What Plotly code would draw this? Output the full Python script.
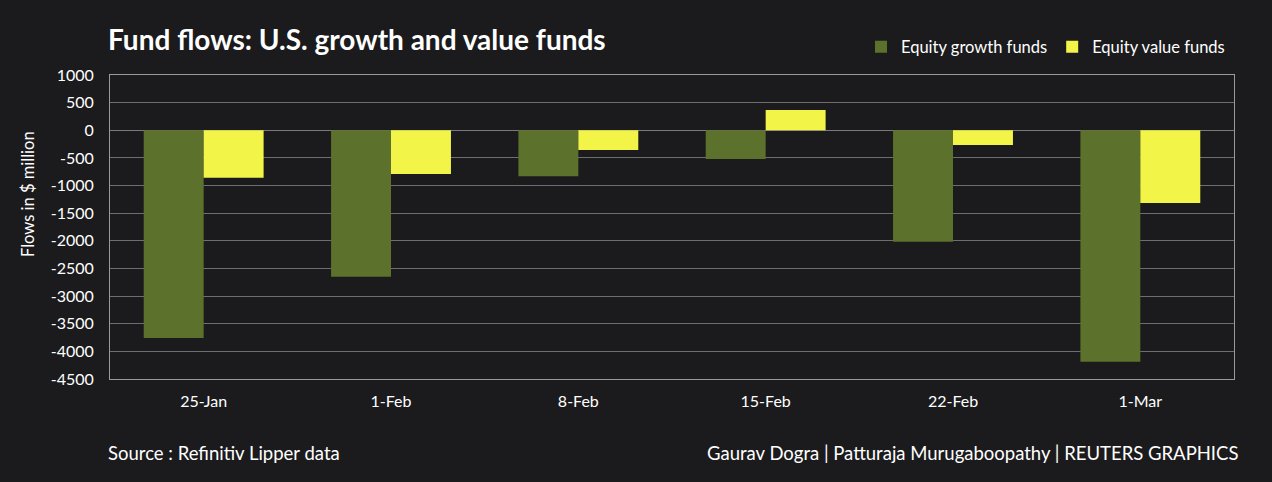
import plotly.graph_objects as go

categories = ["25-Jan", "1-Feb", "8-Feb", "15-Feb", "22-Feb", "1-Mar"]
growth = [-3760, -2650, -830, -520, -2015, -4190]
value = [-860, -790, -355, 365, -265, -1315]
y_ticks = [1000, 500, 0, -500, -1000, -1500, -2000, -2500, -3000, -3500, -4000, -4500]

BG = "#1b1b1d"
FONT = "Lato"
W, H = 1272, 482
L, R, T, B = 110, 38, 75, 103
PW, PH = W - L - R, H - T - B


def px_x(x):
    return (x - L) / PW


def px_y(y):
    return (H - B - y) / PH


fig = go.Figure()
fig.add_trace(go.Bar(x=categories, y=growth, name="Equity growth funds",
                     marker=dict(color="#5c712b", line=dict(width=0))))
fig.add_trace(go.Bar(x=categories, y=value, name="Equity value funds",
                     marker=dict(color="#f2f548", line=dict(width=0))))

fig.update_layout(
    width=W, height=H,
    paper_bgcolor=BG, plot_bgcolor=BG,
    margin=dict(l=L, r=R, t=T, b=B),
    barmode="group", bargap=0.36, bargroupgap=0,
    font=dict(family=FONT, color="#ffffff", size=16),
    title=dict(text="<b>Fund flows: U.S. growth and value funds</b>",
               x=108 / W, xanchor="left", y=1 - 40 / H, yanchor="middle",
               font=dict(size=28, color="#ffffff", family=FONT)),
    legend=dict(orientation="h", x=px_x(1230), xanchor="right",
                y=px_y(47), yanchor="middle",
                font=dict(size=16.5, color="#ffffff"),
                traceorder="normal", bgcolor="rgba(0,0,0,0)",
                itemwidth=30),
    showlegend=True,
    xaxis=dict(showgrid=False, showline=True, linecolor="#9a9a9a", linewidth=1,
               mirror=True, ticks="", tickfont=dict(size=16, color="#ffffff"),
               ticklabelstandoff=8),
    yaxis=dict(range=[-4500, 1000], tickvals=y_ticks,
               ticktext=[str(v) for v in y_ticks],
               showgrid=True, gridcolor="#6e6e6e", gridwidth=1,
               showline=True, linecolor="#9a9a9a", linewidth=1, mirror=True,
               zeroline=True, zerolinecolor="#7a7a7a", zerolinewidth=1,
               ticks="", tickfont=dict(size=16, color="#ffffff"),
               ticklabelstandoff=12),
    annotations=[
        dict(text="Flows in $ million", textangle=-90, x=px_x(28), y=px_y(194),
             xref="paper", yref="paper", xanchor="center", yanchor="middle",
             showarrow=False, font=dict(size=16.5, color="#ffffff")),
        dict(text="Source : Refinitiv Lipper data", x=px_x(106), y=px_y(453),
             xref="paper", yref="paper", xanchor="left", yanchor="middle",
             showarrow=False, font=dict(size=18.5, color="#ffffff")),
        dict(text="Gaurav Dogra | Patturaja Murugaboopathy | REUTERS GRAPHICS",
             x=px_x(1240), y=px_y(453), xref="paper", yref="paper",
             xanchor="right", yanchor="middle", showarrow=False,
             font=dict(size=18.5, color="#ffffff")),
    ],
)

fig.write_html("out.html",
               config={"displayModeBar": False},
               post_script="document.body.style.margin='0';"
                           "document.body.style.background='#1b1b1d';")
